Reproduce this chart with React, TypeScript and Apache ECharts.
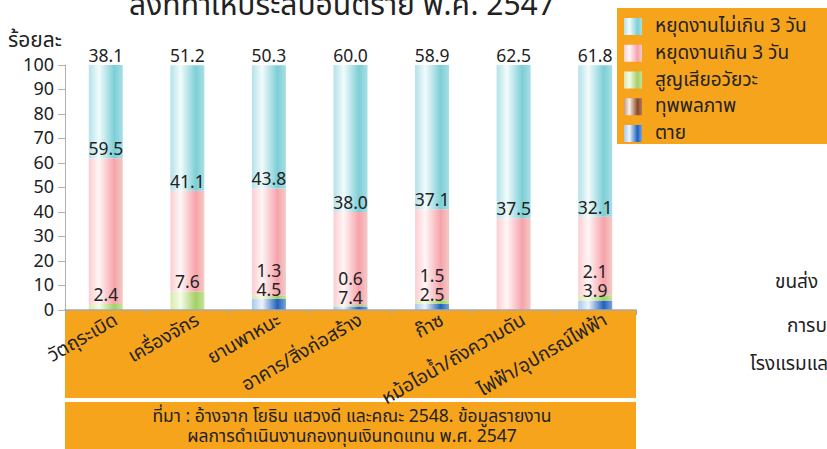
import React, { useEffect, useRef } from "react";
import * as echarts from "echarts";

const categories = [
  "วัตถุระเบิด",
  "เครื่องจักร",
  "ยานพาหนะ",
  "อาคาร/สิ่งก่อสร้าง",
  "ก๊าซ",
  "หม้อไอน้ำ/ถังความดัน",
  "ไฟฟ้า/อุปกรณ์ไฟฟ้า",
];
const deathValues = [0, 0, 4.5, 1.4, 2.5, 0, 3.9];
const deathLabelText = ["", "", "4.5", "7.4", "2.5", "", "3.9"];
const disabilityValues = [0, 0, 0, 0, 0, 0, 0];
const organLossValues = [2.4, 7.6, 1.3, 0.6, 1.5, 0, 2.1];
const over3DaysValues = [59.5, 41.1, 43.8, 38.0, 37.1, 37.5, 32.1];
const upTo3DaysValues = [38.1, 51.2, 50.3, 60.0, 58.9, 62.5, 61.8];
const yTicks = { min: 0, max: 100, interval: 10 };

const titleText = "สิ่งที่ทำให้ประสบอันตราย พ.ศ. 2547";
const yAxisTitle = "ร้อยละ";
const sourceLine1 = "ที่มา : อ้างจาก โยธิน แสวงดี และคณะ 2548. ข้อมูลรายงาน";
const sourceLine2 = "ผลการดำเนินงานกองทุนเงินทดแทน พ.ศ. 2547";
const sideTexts = ["ขนส่ง", "การบ", "โรงแรมแล"];

const FONT = "'Noto Sans Thai', 'Noto Sans Thai Looped', 'Noto Sans', 'DejaVu Sans', sans-serif";
const ORANGE = "#f6a41c";
const TEXT = "#222";

const grad = (a: string, b: string, c: string, d: string) =>
  new echarts.graphic.LinearGradient(0, 0, 1, 0, [
    { offset: 0, color: a },
    { offset: 0.3, color: b },
    { offset: 0.75, color: c },
    { offset: 1, color: d },
  ]);

export default function App() {
  const ref = useRef<HTMLDivElement>(null);
  useEffect(() => {
    if (!ref.current) return;
    const chart = echarts.init(ref.current, null, { renderer: "svg" });
    const gridTop = 65;
    const gridHeight = 245;
    const k = gridHeight / (yTicks.max - yTicks.min);

    const labelBase = {
      show: true,
      position: "top" as const,
      distance: 1,
      fontSize: 17.5,
      lineHeight: 15,
      color: TEXT,
      fontFamily: FONT,
    };

    const fmt = (v: number) => (v > 0 ? v.toFixed(1) : "");

    const organData = organLossValues.map((v, i) => {
      const off = deathValues[i] > 0 ? v * k - 19 : 0;
      return {
        value: v,
        label: { offset: [0, off] },
      };
    });

    const option: any = {
      animation: false,
      grid: { left: 65, top: gridTop, width: 571, height: gridHeight, containLabel: false },
      legend: {
        orient: "vertical",
        left: 624,
        top: 17,
        padding: 0,
        itemWidth: 18,
        itemHeight: 17,
        itemGap: 7.75,
        icon: "rect",
        z: 10,
        data: ["หยุดงานไม่เกิน 3 วัน", "หยุดงานเกิน 3 วัน", "สูญเสียอวัยวะ", "ทุพพลภาพ", "ตาย"],
        textStyle: { fontSize: 19, color: TEXT, fontFamily: FONT, lineHeight: 17, padding: [0, 0, 0, 8] },
      },
      xAxis: {
        type: "category",
        data: categories,
        axisLine: { lineStyle: { color: "#a8a8a8", width: 1.5 } },
        axisTick: { show: true, length: 5, lineStyle: { color: "#a8a8a8" } },
        axisLabel: {
          interval: 0,
          rotate: 30,
          margin: 15,
          fontSize: 19,
          color: TEXT,
          fontFamily: FONT,
          padding: [0, -12, 0, 0],
        },
        z: 5,
      },
      yAxis: {
        type: "value",
        min: yTicks.min,
        max: yTicks.max,
        interval: yTicks.interval,
        axisLine: { show: true, lineStyle: { color: "#b0b0b0" } },
        axisTick: { show: true, length: 7, lineStyle: { color: "#b0b0b0" } },
        splitLine: { show: false },
        axisLabel: { fontSize: 18, color: TEXT, fontFamily: FONT, margin: 11 },
      },
      series: [
        {
          name: "ตาย",
          type: "bar",
          stack: "s",
          barWidth: 34,
          data: deathValues,
          itemStyle: { color: grad("#a9c7ee", "#eef4fc", "#1f62bd", "#7aa2dc") },
          label: { ...labelBase, formatter: (p: any) => (p.value > 0 ? deathLabelText[p.dataIndex] : "") },
        },
        {
          name: "ทุพพลภาพ",
          type: "bar",
          stack: "s",
          barWidth: 34,
          data: disabilityValues,
          itemStyle: { color: grad("#c49a80", "#fbeee6", "#8a4a2a", "#b07a58") },
        },
        {
          name: "สูญเสียอวัยวะ",
          type: "bar",
          stack: "s",
          barWidth: 34,
          data: organData,
          itemStyle: { color: grad("#d6eaae", "#f6fbe8", "#a2d066", "#c8e49a") },
          label: { ...labelBase, formatter: (p: any) => fmt(p.value) },
        },
        {
          name: "หยุดงานเกิน 3 วัน",
          type: "bar",
          stack: "s",
          barWidth: 34,
          data: over3DaysValues,
          itemStyle: { color: grad("#fccdd2", "#fff6f6", "#f7a2aa", "#f3cbc6") },
          label: { ...labelBase, formatter: (p: any) => fmt(p.value) },
        },
        {
          name: "หยุดงานไม่เกิน 3 วัน",
          type: "bar",
          stack: "s",
          barWidth: 34,
          data: upTo3DaysValues,
          itemStyle: { color: grad("#b3e2e9", "#f2fbfc", "#7ccfd6", "#a9dfe5") },
          label: { ...labelBase, formatter: (p: any) => fmt(p.value) },
        },
      ],
      graphic: [
        { type: "rect", z: -10, shape: { x: 65, y: 310, width: 571, height: 88 }, style: { fill: ORANGE } },
        { type: "rect", z: -10, shape: { x: 65, y: 402, width: 571, height: 50 }, style: { fill: ORANGE } },
        { type: "rect", z: -10, shape: { x: 617, y: 8, width: 230, height: 136 }, style: { fill: ORANGE } },
        {
          type: "text",
          x: 342,
          y: -9,
          style: { text: titleText, fontSize: 30, fill: TEXT, fontFamily: FONT, align: "center", verticalAlign: "top" },
        },
        {
          type: "text",
          x: 8,
          y: 40,
          style: { text: yAxisTitle, fontSize: 21, fill: TEXT, fontFamily: FONT, align: "left", verticalAlign: "middle" },
        },
        {
          type: "text",
          x: 352,
          y: 416,
          style: { text: sourceLine1, fontSize: 17.5, lineHeight: 18, fill: TEXT, fontFamily: FONT, align: "center", verticalAlign: "middle" },
        },
        {
          type: "text",
          x: 352,
          y: 436,
          style: { text: sourceLine2, fontSize: 17.5, lineHeight: 18, fill: TEXT, fontFamily: FONT, align: "center", verticalAlign: "middle" },
        },
        {
          type: "text",
          x: 775,
          y: 282,
          style: { text: sideTexts[0], fontSize: 19, fill: TEXT, fontFamily: FONT, align: "left", verticalAlign: "middle" },
        },
        {
          type: "text",
          x: 787,
          y: 326,
          style: { text: sideTexts[1], fontSize: 19, fill: TEXT, fontFamily: FONT, align: "left", verticalAlign: "middle" },
        },
        {
          type: "text",
          x: 750,
          y: 364,
          style: { text: sideTexts[2], fontSize: 19, fill: TEXT, fontFamily: FONT, align: "left", verticalAlign: "middle" },
        },
      ],
    };
    chart.setOption(option);
    return () => chart.dispose();
  }, []);

  return (
    <div
      ref={ref}
      style={{ position: "fixed", left: 0, top: 0, width: 827, height: 449, background: "#fff" }}
    />
  );
}
